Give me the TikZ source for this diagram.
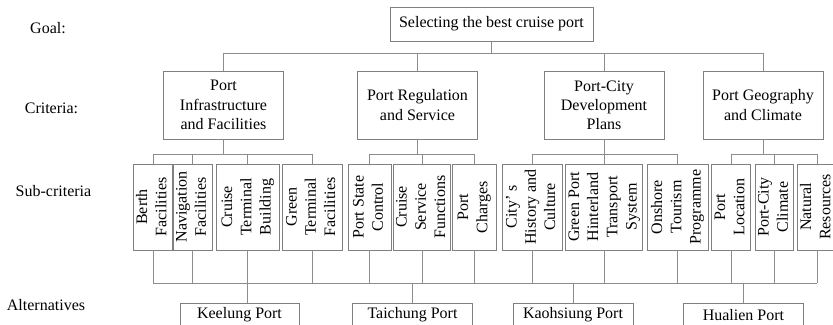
\documentclass[tikz,border=0pt]{standalone}
\usepackage{fontspec}
\setmainfont{Liberation Serif}
\usepackage{graphicx}
\newcommand{\vlabel}[1]{\rotatebox{90}{\begin{tabular}{@{}c@{}}#1\end{tabular}}}

\begin{document}
\begin{tikzpicture}[
        x=0.75pt, y=-0.75pt,
        line width=0.5pt,
        box/.style={draw=black!50, inner sep=0pt, align=center, font=\fontsize{12}{14.4}\selectfont},
        boxsize/.style 2 args={minimum width=#1*0.75pt, minimum height=#2*0.75pt},
        critbox/.style={box, boxsize={120}{68}},
        subbox/.style={box, minimum height=86*0.75pt, minimum width=#1*0.75pt},
        altbox/.style={box, boxsize={120}{24}},
        level/.style={font=\fontsize{12}{14.4}\selectfont},
        link/.style={draw=black!45}
    ]
    \useasboundingbox (0,0) rectangle (833,325);

    % --- Level names ---
    \node[level] (goallbl) at (48,28) {Goal:};
    \node[level] (critlbl) at (51.5,108) {Criteria:};
    \node[level] (sublbl) at (53.5,191) {Sub-criteria};
    \node[level] (altlbl) at (46,305) {Alternatives};

    % --- Goal ---
    \node[box, boxsize={203}{34}] (goal) at (491.5,24) {Selecting the best cruise port};

    % --- Criteria ---
    \node[critbox] (infra) at (223.5,105) {Port\\Infrastructure\\and Facilities};
    \node[critbox] (reg) at (417.5,105) {Port Regulation\\and Service};
    \node[critbox] (city) at (604,105) {Port-City\\Development\\Plans};
    \node[critbox] (geo) at (763,105) {Port Geography\\and Climate};

    % --- Sub-criteria ---
    \node[subbox=36] (berth) at (153,207) {\vlabel{Berth\\Facilities}};
    \node[subbox=39] (nav) at (192.5,207) {\vlabel{Navigation\\Facilities}};
    \node[subbox=63] (ctb) at (247.5,207) {\vlabel{Cruise\\Terminal\\Building}};
    \node[subbox=60] (gtf) at (312,207) {\vlabel{Green\\Terminal\\Facilities}};
    \node[subbox=43] (psc) at (369.5,207) {\vlabel{Port State\\Control}};
    \node[subbox=50] (csf) at (422,207) {\vlabel{Cruise\\Service\\Functions}};
    \node[subbox=44] (pc) at (474,207) {\vlabel{Port\\Charges}};
    \node[subbox=60] (hist) at (532,207) {\vlabel{City’ s\\History and\\Culture}};
    \node[subbox=76] (gphts) at (604,207) {\vlabel{Green Port\\Hinterland\\Transport\\System}};
    \node[subbox=61] (otp) at (677.5,207) {\vlabel{Onshore\\Tourism\\Programme}};
    \node[subbox=38] (loc) at (731,207) {\vlabel{Port\\Location}};
    \node[subbox=37] (clim) at (774.5,207) {\vlabel{Port-City\\Climate}};
    \node[subbox=38] (nat) at (817,207) {\vlabel{Natural\\Resources}};

    % --- Alternatives ---
    \node[altbox, boxsize={119}{24}] (keelung) at (239.5,315) {Keelung Port};
    \node[altbox] (taichung) at (412.5,315) {Taichung Port};
    \node[altbox] (kaohsiung) at (573,315) {Kaohsiung Port};
    \node[altbox] (hualien) at (743.5,315) {Hualien Port};

    % --- Goal to criteria ---
    \coordinate (gbus) at (491.5,53);
    \draw[link] (goal.south) -- (gbus);
    \foreach \c in {infra,reg,city,geo}
        \draw[link] (gbus) -| (\c.north);

    % --- Criteria to sub-criteria ---
    \foreach \c/\subs in {infra/{berth,nav,ctb,gtf}, reg/{psc,csf,pc}, city/{hist,gphts,otp}, geo/{loc,clim,nat}} {
        \draw[link] (\c.south) -- ++(0,15) coordinate (bus);
        \foreach \s in \subs
            \draw[link] (bus) -| (\s.north);
    }

    % --- Sub-criteria to alternatives ---
    \coordinate (abus) at (0,283);
    \foreach \s in {berth,nav,ctb,gtf,psc,csf,pc,hist,gphts,otp,loc,clim,nat}
        \draw[link] (\s.south) -- (\s.south |- abus);
    \draw[link] (berth.south |- abus) -- (nat.south |- abus);
    \draw[link] (ctb.south |- abus) -- (ctb.south |- keelung.north);
    \foreach \a in {taichung,kaohsiung,hualien}
        \draw[link] (\a.north |- abus) -- (\a.north);
\end{tikzpicture}
\end{document}
